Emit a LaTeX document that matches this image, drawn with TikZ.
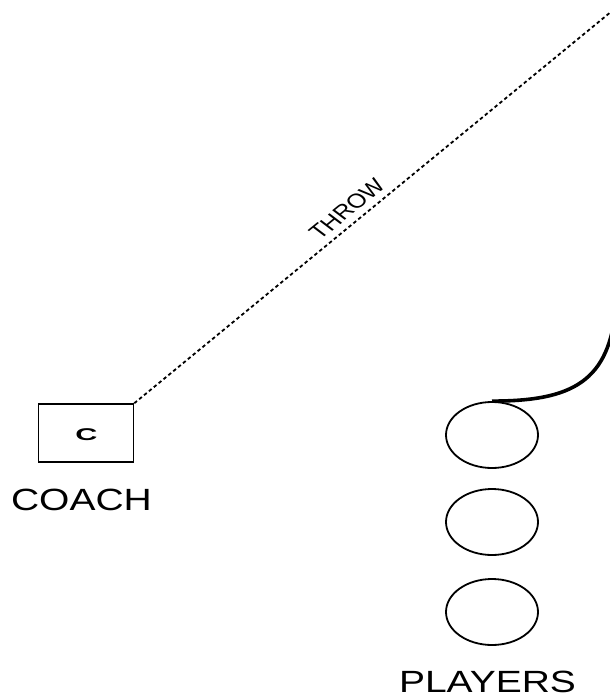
\documentclass[tikz,border=0pt]{standalone}
\usepackage{fontspec}
\setmainfont{Liberation Sans}
\usetikzlibrary{shapes.geometric}
\begin{document}
\begin{tikzpicture}[x=1pt,y=-1pt,
  coachbox/.style={draw,line width=1.6pt,minimum width=95pt,minimum height=58pt,inner sep=0pt},
  player/.style={draw,ellipse,line width=1.8pt,minimum width=92pt,minimum height=66pt,inner sep=0pt},
  biglabel/.style={font=\fontsize{30.7}{36}\selectfont,xscale=1.27,inner sep=0pt},
  throwline/.style={line width=1.8pt,dash pattern=on 3.5pt off 2.8pt},
  runline/.style={line width=3.6pt}]
\useasboundingbox (0,0) rectangle (610,696);
\node[coachbox] (coach) at (86,433) {};
\node[font=\bfseries\fontsize{17}{19}\selectfont,xscale=1.8,inner sep=0pt] (c) at (86.5,434.5) {C};
\node[biglabel] (coachlbl) at (81.5,500) {COACH};
\node[player] (p1) at (492,435) {};
\node[player] (p2) at (492,522) {};
\node[player] (p3) at (492,612) {};
\node[biglabel] (playerslbl) at (487.5,682) {PLAYERS};
\coordinate (throwend) at (612,11);
\coordinate (runend) at (616,305);
\draw[throwline] (coach.north east) -- (throwend);
\draw[runline] (p1.north) .. controls (572,401) and (610,382) .. (runend);
\node[font=\fontsize{20}{23}\selectfont,xscale=1.27,rotate=46,inner sep=0pt] (throwlbl) at (347,209) {THROW};
\end{tikzpicture}
\end{document}
